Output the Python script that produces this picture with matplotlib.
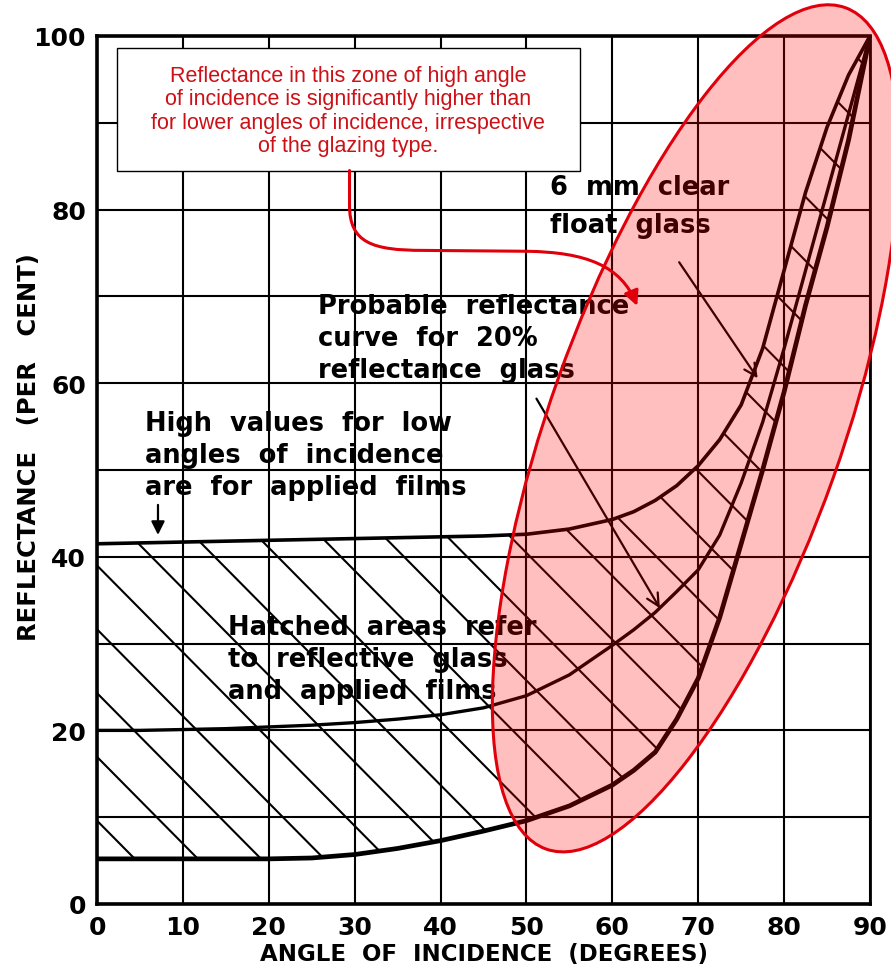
import numpy as np
import matplotlib.pyplot as plt
from matplotlib.patches import Ellipse, Polygon, Rectangle, FancyArrowPatch
from matplotlib.path import Path

# values
angle = [0, 5, 10, 15, 20, 25, 30, 35, 40, 45, 50, 55, 60, 62.5, 65, 67.5, 70, 72.5, 75, 77.5, 80,
         82.5, 85, 87.5, 90]
films_high = [41.5, 41.6, 41.7, 41.8, 41.9, 42.0, 42.1, 42.2, 42.3, 42.4, 42.6, 43.2, 44.3, 45.2, 46.5,
              48.2, 50.5, 53.5, 57.5, 64.0, 73.0, 82.0, 89.5, 95.5, 100]
refl_20 = [20.0, 20.0, 20.1, 20.2, 20.4, 20.6, 20.9, 21.3, 21.8, 22.6, 24.0, 26.4, 29.8, 31.6, 33.6,
           36.0, 38.5, 42.5, 48.5, 55.5, 64.0, 73.0, 82.0, 91.0, 100]
clear_6mm = [5.2, 5.2, 5.2, 5.2, 5.2, 5.3, 5.7, 6.4, 7.3, 8.4, 9.6, 11.3, 13.7, 15.4, 17.5,
             21.3, 26.0, 33.0, 41.5, 50.0, 59.0, 69.0, 78.0, 88.0, 100]

x_ticks = [0, 10, 20, 30, 40, 50, 60, 70, 80, 90]
y_ticks = [0, 20, 40, 60, 80, 100]
y_grid = [10, 30, 50, 70, 90]

note = ("Reflectance in this zone of high angle\n"
        "of incidence is significantly higher than\n"
        "for lower angles of incidence, irrespective\n"
        "of the glazing type.")

red = '#e0000b'
txt_red = '#cc1016'

fig = plt.figure(figsize=(8.91, 9.70), dpi=100)
ax = fig.add_axes([97 / 891, 1 - 905 / 970, 773 / 891, 868 / 970])
ax.set_xlim(0, 90)
ax.set_ylim(0, 100)

ax.set_xticks(x_ticks)
ax.set_yticks(y_ticks)
ax.set_yticks(y_grid, minor=True)
ax.tick_params(which='both', length=0)
ax.tick_params(axis='x', pad=8, labelsize=18)
ax.tick_params(axis='y', pad=8, labelsize=18)
for lab in ax.get_xticklabels() + ax.get_yticklabels():
    lab.set_fontweight('bold')
ax.grid(True, which='both', color='black', lw=1.5)
ax.set_axisbelow(True)
for s in ax.spines.values():
    s.set_linewidth(2.6)
ax.spines['right'].set_linewidth(2.0)

ax.set_xlabel('ANGLE  OF  INCIDENCE  (DEGREES)', fontsize=16.5, fontweight='bold', labelpad=2)
ax.set_ylabel('REFLECTANCE   (PER   CENT)', fontsize=17.5, fontweight='bold')
ax.yaxis.set_label_coords(-0.072, 0.528)

# curves
ax.plot(angle, films_high, color='black', lw=2.6, solid_joinstyle='round', zorder=3)
ax.plot(angle, refl_20, color='black', lw=2.4, solid_joinstyle='round', zorder=3)
ax.plot(angle, clear_6mm, color='black', lw=3.4, solid_joinstyle='round', zorder=3)

# hatching between top and bottom curve
verts = list(zip(angle, films_high)) + list(zip(angle[::-1], clear_6mm[::-1]))
clip = Polygon(verts, closed=True, transform=ax.transData, facecolor='none', edgecolor='none')
xx = np.array([0, 90])
for c in np.arange(9.6, 200, 7.35):
    ln, = ax.plot(xx, c - xx, color='black', lw=1.5, zorder=2.5)
    ln.set_clip_path(clip)

# labels inside the plot
tkw = dict(fontsize=18.5, fontweight='bold', ha='left', va='center', linespacing=1.3, zorder=3)
ax.text(52.7, 80.4, '6  mm  clear\nfloat  glass', **dict(tkw, linespacing=1.6))
ax.text(25.7, 65.2, 'Probable  reflectance\ncurve  for  20%\nreflectance  glass', **tkw)
ax.text(5.6, 51.7, 'High  values  for  low\nangles  of  incidence\nare  for  applied  films', **tkw)
ax.text(15.2, 28.2, 'Hatched  areas  refer\nto  reflective  glass\nand  applied  films', **tkw)

akw = dict(arrowstyle='->', color='black', lw=1.6, mutation_scale=22)
ax.annotate('', xy=(77.1, 60.3), xytext=(67.6, 74.2), arrowprops=akw, zorder=3)
ax.annotate('', xy=(65.7, 33.8), xytext=(51.0, 58.5), arrowprops=akw, zorder=3)
ax.annotate('', xy=(7.1, 42.2), xytext=(7.1, 46.3),
            arrowprops=dict(arrowstyle='-|>', color='black', lw=1.6, mutation_scale=20), zorder=3)

# highlighted zone
ax.add_patch(Ellipse((69.7, 54.8), 103, 34, angle=70.2, facecolor='red', alpha=0.25,
                     edgecolor='none', clip_on=False, zorder=5))
ax.add_patch(Ellipse((69.7, 54.8), 103, 34, angle=70.2, fill=False, edgecolor=red,
                     lw=2.2, clip_on=False, zorder=6))

# callout box and arrow
ax.add_patch(Rectangle((2.3, 84.5), 53.9, 14.1, facecolor='white', edgecolor='black',
                       lw=1.0, zorder=7))
ax.text(29.25, 91.4, note, color=txt_red, fontsize=15.5, family='Liberation Sans',
        ha='center', va='center', linespacing=1.15, zorder=8)

arrow_path = Path([(29.4, 84.5), (29.4, 80.5),
                   (29.4, 76.2), (32.0, 75.3), (38.0, 75.3),
                   (50.0, 75.2),
                   (57.0, 75.1), (61.0, 73.5), (62.9, 68.9)],
                  [Path.MOVETO, Path.LINETO,
                   Path.CURVE4, Path.CURVE4, Path.CURVE4,
                   Path.LINETO,
                   Path.CURVE4, Path.CURVE4, Path.CURVE4])
ax.add_patch(FancyArrowPatch(path=arrow_path, arrowstyle='-|>', mutation_scale=22,
                             color=red, lw=2.2, clip_on=False, zorder=8))

fig.savefig('out.png', dpi=100)
